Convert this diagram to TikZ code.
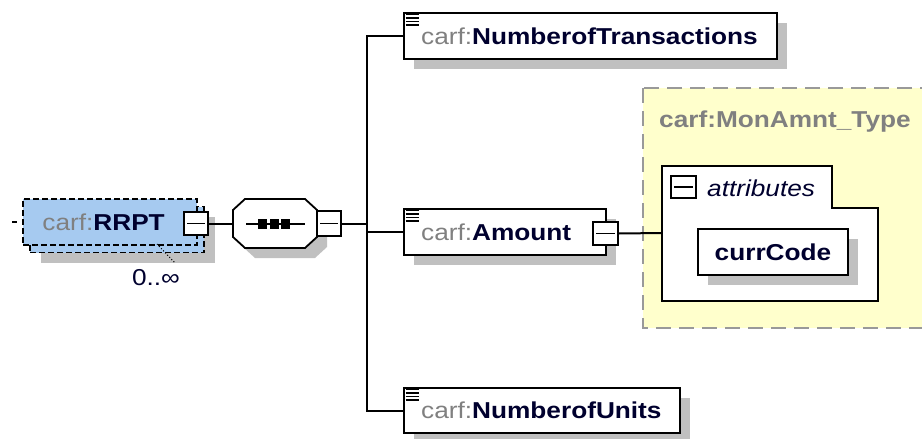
\documentclass[tikz,border=0pt]{standalone}
\usepackage{fontspec}
\setmainfont{Liberation Sans}[FakeStretch=1.14]
\usetikzlibrary{positioning}
\usetikzlibrary{shadows}
\definecolor{pfxgray}{HTML}{808080}
\definecolor{namenavy}{HTML}{00002E}
\definecolor{shadowgray}{HTML}{C0C0C0}
\definecolor{rrptblue}{HTML}{A6CAF0}
\definecolor{typeyellow}{HTML}{FFFFCC}
\definecolor{typeborder}{HTML}{999999}
\newcommand*\xsfont{\fontsize{23}{27}\selectfont}
\newcommand*\carfname[1]{{\color{pfxgray}carf:}\textbf{#1}}
\newcommand*\mydrawelement[5][]{%
% #1=options;#2=node name;#3=west point;#4=width;#5=local name
    \node[elembox,minimum width=#4,anchor=west,#1] (#2) at (#3) {};
    \foreach \k in {0,...,3}
        \draw[doclines] ([shift={(2.5,{2.5+3.4*\k})}]#2.north west) -- ++(13.5,0);
    \node[elemtext,anchor=west] (#2txt) at ([xshift=18pt]#2.west) {\carfname{#5}};
}

\begin{document}
\begin{tikzpicture}[x=1pt,y=-1pt,
    conn/.style={line width=2pt},
    boxshadow/.style={general shadow={fill=shadowgray,shadow xshift=10pt,shadow yshift=-10pt}},
    elembox/.style={draw,line width=1.8pt,fill=white,minimum height=46pt,inner sep=0pt,boxshadow},
    elemtext/.style={font=\xsfont,text=namenavy,inner sep=0pt,text height=16.5pt,text depth=0pt},
    doclines/.style={line width=1.6pt},
    minusbox/.style={draw,line width=1.8pt,fill=white,inner sep=0pt,minimum width=24pt,minimum height=23pt,
        path picture={\draw[line width=1.8pt] ([xshift=3pt]path picture bounding box.west) -- ([xshift=-3pt]path picture bounding box.east);}},
    rrptbox/.style={draw,dash pattern=on 6pt off 3pt,line width=1.6pt,fill=rrptblue,minimum width=174pt,minimum height=46pt,inner sep=0pt},
    seqbox/.style={minimum width=84pt,minimum height=49pt,inner sep=0pt,outer sep=0pt},
    seqline/.style={draw,line width=1.8pt,fill=white,boxshadow},
    typebox/.style={draw=typeborder,fill=typeyellow,line width=1.8pt,dash pattern=on 15pt off 8pt},
    typetext/.style={font=\xsfont\bfseries,text=pfxgray,inner sep=0pt},
    attrbox/.style={draw,fill=white,line width=1.8pt},
    occline/.style={dotted,line width=1pt},
    occtext/.style={font=\xsfont,text=namenavy,inner sep=0pt}]
\useasboundingbox (0,0) rectangle (922,439);

% complex type of Amount
\draw[typebox] (643,88) rectangle (940,328);
\node[typetext,anchor=west] (typename) at (659,122) {carf:MonAmnt\_Type};

% RRPT, drawn as a stack
\node[rrptbox,general shadow={fill=shadowgray,shadow xshift=11pt,shadow yshift=-10pt}] (rrptback) at (117,229.5) {};
\node[rrptbox] (rrpt) at (110,222) {};
\node[elemtext,anchor=west] (rrpttxt) at ([xshift=20pt]rrpt.west) {\carfname{RRPT}};
\node[minusbox] (rrptm) at (196,223.5) {};
\node[occtext] (occurs) at (156,278) {0..∞};
\coordinate (occa) at (157,244);
\coordinate (occb) at (175,263);
\draw[occline] (occa) -- (occb);
\coordinate (inA) at (12,222);
\coordinate (inB) at (17,222);
\draw[conn] (inA) -- (inB);

% sequence
\node[seqbox] (seq) at (275,223.5) {};
\path[seqline] ([shift={(12,0)}]seq.north west) -- ([shift={(-12,0)}]seq.north east)
    -- ([shift={(0,11)}]seq.north east) -- ([shift={(0,-11)}]seq.south east)
    -- ([shift={(-12,0)}]seq.south east) -- ([shift={(12,0)}]seq.south west)
    -- ([shift={(0,-11)}]seq.south west) -- ([shift={(0,11)}]seq.north west) -- cycle;
\draw[conn] (rrptm) -- (seq);
\draw[conn] ([xshift=-29pt]seq.center) -- ([xshift=30pt]seq.center);
\foreach \k in {0,1,2}
    \fill ([shift={({-17+11.5*\k},-5)}]seq.center) rectangle ++(9,10);
\node[minusbox,minimum height=25pt] (seqm) at (329,223.5) {};

% children
\coordinate (bustop) at (367,36);
\coordinate (busbot) at (367,410.5);
\mydrawelement{ntrans}{403,36}{373pt}{NumberofTransactions}
\mydrawelement{amount}{403,232}{202pt}{Amount}
\mydrawelement[minimum height=45pt]{units}{403,410.5}{276pt}{NumberofUnits}
\draw[conn] (ntrans.west) -- (bustop) -- (busbot) -- (units.west);
\draw[conn] (seqm.east) -- (seqm.east -| bustop);
\draw[conn] (amount.west) -- (amount.west -| bustop);
\node[minusbox,minimum width=25pt] (amountm) at (605.5,233.5) {};

% attributes
\draw[attrbox] (662,166) -- (832,166) -- (832,208) -- (878,208) -- (878,301) -- (662,301) -- cycle;
\coordinate (attrs) at (662,233);
\draw[conn] (amountm.east) -- (attrs);
\node[minusbox,minimum width=25pt,minimum height=22pt] (attrm) at (683.5,187) {};
\node[elemtext,anchor=west,font=\xsfont\itshape] (attrtxt) at (707,188) {attributes};
\node[elembox,minimum width=150pt,font=\xsfont\bfseries,text=namenavy] (currcode) at (773,252) {currCode};
\end{tikzpicture}
\end{document}
